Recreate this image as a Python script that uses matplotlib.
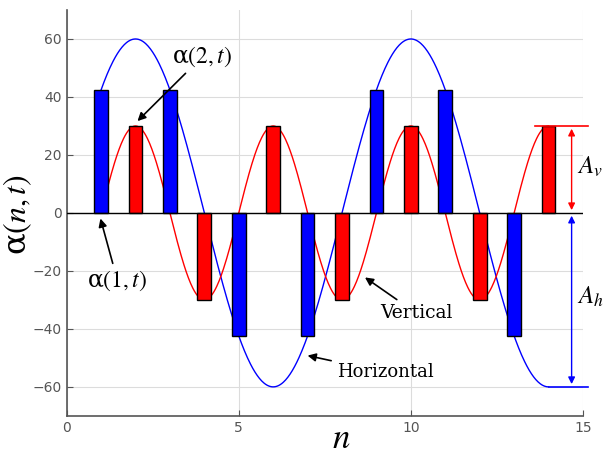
import numpy as np
import matplotlib.pyplot as plt

# bar data
n_h = [1, 3, 5, 7, 9, 11, 13]
alpha_h = [42.4, 42.4, -42.4, -42.4, 42.4, 42.4, -42.4]
n_v = [2, 4, 6, 8, 10, 12, 14]
alpha_v = [30, -30, 30, -30, 30, -30, 30]

# sinusoid amplitudes / periods
A_h = 60
A_v = 30
period_h = 8
period_v = 4

xticks = [0, 5, 10, 15]
yticks = [-60, -40, -20, 0, 20, 40, 60]

plt.rcParams['mathtext.fontset'] = 'stix'

fig = plt.figure(figsize=(6.06, 4.54), dpi=100)
ax = fig.add_axes([0.11, 0.084, 0.852, 0.894])

t = np.linspace(1, 14, 600)
ax.plot(t, A_h * np.sin(2 * np.pi * t / period_h), color=(0, 0, 1), lw=1, zorder=2)
ax.plot(t, A_v * np.sin(2 * np.pi * (t - 1) / period_v), color=(1, 0, 0), lw=1, zorder=2)

ax.bar(n_h, alpha_h, width=0.4, color=(0, 0, 1), edgecolor='black', linewidth=1, zorder=3)
ax.bar(n_v, alpha_v, width=0.4, color=(1, 0, 0), edgecolor='black', linewidth=1, zorder=3)

ax.axhline(0, color='black', lw=1, zorder=4)

# amplitude markers
ax.plot([13.6, 15.15], [A_v, A_v], color='red', lw=1.2, clip_on=False, zorder=4)
ax.plot([14.0, 15.15], [-A_h, -A_h], color='blue', lw=1.2, clip_on=False, zorder=4)
ax.annotate('', xy=(14.67, 0), xytext=(14.67, A_v),
            arrowprops=dict(arrowstyle='<|-|>', color='red', lw=1, mutation_scale=10),
            annotation_clip=False)
ax.annotate('', xy=(14.67, 0), xytext=(14.67, -A_h),
            arrowprops=dict(arrowstyle='<|-|>', color='blue', lw=1, mutation_scale=10),
            annotation_clip=False)
ax.text(14.84, 16, r'$A_v$', fontsize=18, va='center', ha='left', clip_on=False)
ax.text(14.84, -29, r'$A_h$', fontsize=18, va='center', ha='left', clip_on=False)

arrow = dict(arrowstyle='-|>', color='black', lw=1.2, mutation_scale=12)
ax.annotate(r'α$(2,t)$', xy=(2.0, 31), xytext=(3.95, 54), fontsize=17,
            family='DejaVu Serif', ha='center', va='center', arrowprops=arrow)
ax.annotate(r'α$(1,t)$', xy=(0.96, -1), xytext=(1.48, -23.5), fontsize=17,
            family='DejaVu Serif', ha='center', va='center', arrowprops=arrow)
ax.annotate('Vertical', xy=(8.6, -21.7), xytext=(10.15, -34.5), fontsize=13.5,
            family='DejaVu Serif', ha='center', va='center', arrowprops=arrow)
ax.annotate('Horizontal', xy=(6.92, -49), xytext=(9.25, -55), fontsize=13,
            family='DejaVu Serif', ha='center', va='center', arrowprops=arrow)

ax.set_xlim(0, 15)
ax.set_ylim(-70, 70)
ax.set_xticks(xticks)
ax.set_yticks(yticks)
ax.grid(True, color='#dcdcdc', lw=0.8)
ax.set_axisbelow(True)
ax.tick_params(direction='in', colors='#555555', labelsize=10, length=4)
for s in ['top', 'right']:
    ax.spines[s].set_visible(False)
for s in ['left', 'bottom']:
    ax.spines[s].set_color('#555555')
    ax.spines[s].set_linewidth(1.2)

fig.text(341 / 606, 6 / 454, r'$n$', fontsize=25, ha='center', va='baseline')
fig.text(18 / 606, 1 - 215 / 454, r'α$(n,t)$', fontsize=23, family='DejaVu Serif',
         rotation=90, ha='center', va='center')

fig.savefig('out.png', dpi=100)
